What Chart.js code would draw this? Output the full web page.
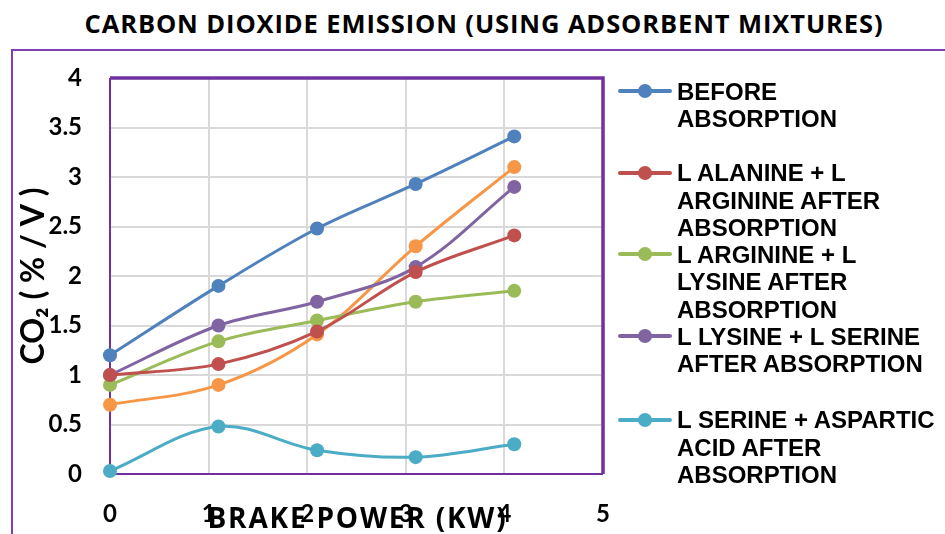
<!DOCTYPE html>
<html>
<head>
<meta charset="utf-8">
<script src="https://cdn.jsdelivr.net/npm/chart.js@4"></script>
<style>
  body { margin:0; background:#fff; }
  #wrap { position:relative; width:945px; height:534px; overflow:hidden; }
  #outer { position:absolute; left:11px; top:49px; width:1000px; height:600px; border:2px solid #7f3fb5; }
  #title { position:absolute; left:1px; top:8px; width:966px; text-align:center; font:bold 25.5px "Open Sans", sans-serif; letter-spacing:0.9px; line-height:30px; color:#000; }
  canvas { position:absolute; left:0; top:0; }
  .item { position:absolute; left:677px; font:bold 24px "Liberation Sans", Arial, sans-serif; line-height:27.5px; color:#000; white-space:nowrap; }
  .mk { position:absolute; left:618px; width:54px; height:4px; border-radius:2px; }
  .dot { position:absolute; left:20px; top:-5px; width:14px; height:14px; border-radius:50%; }
</style>
</head>
<body>
<div id="wrap">
  <div id="outer"></div>
  <div id="title">CARBON DIOXIDE EMISSION (USING ADSORBENT MIXTURES)</div>
  <canvas id="chart" width="945" height="534"></canvas>
  <div id="legend"></div>
</div>
<script>
// brake power (kW)
const power = [0, 1.1, 2.1, 3.1, 4.1];

// CO2 (% / V)
const before    = [1.2, 1.9, 2.48, 2.93, 3.41];
const alaArg    = [1.0, 1.11, 1.44, 2.04, 2.41];
const argLys    = [0.9, 1.34, 1.55, 1.74, 1.85];
const lysSer    = [1.0, 1.5, 1.74, 2.09, 2.9];
const serAsp    = [0.03, 0.48, 0.24, 0.17, 0.3];
const unlisted  = [0.7, 0.9, 1.41, 2.3, 3.1];

const names = [
  ['BEFORE', 'ABSORPTION'],
  ['L ALANINE + L', 'ARGININE AFTER', 'ABSORPTION'],
  ['L ARGININE + L', 'LYSINE AFTER', 'ABSORPTION'],
  ['L LYSINE + L SERINE', 'AFTER ABSORPTION'],
  ['L SERINE + ASPARTIC', 'ACID AFTER', 'ABSORPTION']
];
const colors = ['#4f81bd', '#c0504d', '#9bbb59', '#8064a2', '#4bacc6', '#f79646'];
const legendTops = [77.5, 159, 240.5, 322.5, 406];

function q(id){ return document.getElementById(id); }

function pts(ys){ return ys.map((y, i) => ({ x: power[i], y })); }

function series(label, ys, color){
  return {
    label, data: pts(ys),
    borderColor: color, backgroundColor: color,
    borderWidth: 3, pointRadius: 7, pointHoverRadius: 7,
    pointBorderWidth: 0, tension: 0.35, clip: false
  };
}

// build html legend
const leg = q('legend');
names.forEach((lines, i) => {
  const top = legendTops[i];
  const mk = document.createElement('div');
  mk.className = 'mk'; mk.style.top = (top + 13.5 - 2) + 'px'; mk.style.background = colors[i];
  const dot = document.createElement('div'); dot.className = 'dot'; dot.style.background = colors[i];
  mk.appendChild(dot); leg.appendChild(mk);
  const t = document.createElement('div');
  t.className = 'item'; t.style.top = top + 'px'; t.innerHTML = lines.join('<br>');
  leg.appendChild(t);
});

const plotFrame = {
  id: 'plotFrame',
  beforeDatasetsDraw(chart){
    const { ctx, chartArea: a } = chart;
    ctx.save();
    ctx.strokeStyle = '#7030a0';
    ctx.lineWidth = 2;
    ctx.beginPath();
    ctx.moveTo(a.left, a.top); ctx.lineTo(a.left, a.bottom); ctx.lineTo(a.right, a.bottom);
    ctx.stroke();
    ctx.lineWidth = 3.5;
    ctx.beginPath();
    ctx.moveTo(a.left, a.top); ctx.lineTo(a.right, a.top); ctx.lineTo(a.right, a.bottom);
    ctx.stroke();
    ctx.restore();
  }
};

// the x title in the source is spread out, so draw it with some letter spacing
function spreadTitle(s, spacing){
  if (s._spread) return;
  const orig = s.drawTitle;
  s.drawTitle = function(){
    this.ctx.save(); this.ctx.letterSpacing = spacing; this.ctx.translate(1, 0);
    orig.call(this);
    this.ctx.restore();
  };
  s._spread = true;
}

new Chart(q('chart').getContext('2d'), {
  type: 'line',
  data: {
    datasets: [
      series(names[0].join(' '), before, colors[0]),
      series(names[1].join(' '), alaArg, colors[1]),
      series(names[2].join(' '), argLys, colors[2]),
      series(names[3].join(' '), lysSer, colors[3]),
      series(names[4].join(' '), serAsp, colors[4]),
      series('', unlisted, colors[5])
    ]
  },
  options: {
    responsive: false,
    animation: false,
    layout: { padding: { left: 0, right: 342, top: 78, bottom: 0 } },
    plugins: { legend: { display: false }, tooltip: { enabled: false } },
    scales: {
      x: {
        type: 'linear', min: 0, max: 5,
        ticks: { stepSize: 1, padding: 26, color: '#000', font: { family: 'Lato', size: 24, weight: 'bold' } },
        grid: { color: '#d9d9d9', lineWidth: 2, drawTicks: false },
        border: { display: false },
        title: { display: true, text: 'BRAKE POWER (KW)', color: '#000',
                 font: { family: 'Open Sans', size: 28, weight: 'bold' }, padding: { top: -27, bottom: -3 } },
        afterFit(s){ s.height = 60; spreadTitle(s, '1.8px'); }
      },
      y: {
        min: 0, max: 4,
        ticks: { stepSize: 0.5, padding: 28, color: '#000', font: { family: 'Lato', size: 24, weight: 'bold' },
                 callback: v => String(v) },
        grid: { color: '#d9d9d9', lineWidth: 2, drawTicks: false },
        border: { display: false },
        title: { display: true, text: 'CO\u2082 ( % / V )', color: '#000',
                 font: { family: 'Lato', size: 32, weight: 'bold' }, padding: { top: 14, bottom: 0 } },
        afterFit(s){ s.width = 110; }
      }
    }
  },
  plugins: [plotFrame]
});
</script>
</body>
</html>
